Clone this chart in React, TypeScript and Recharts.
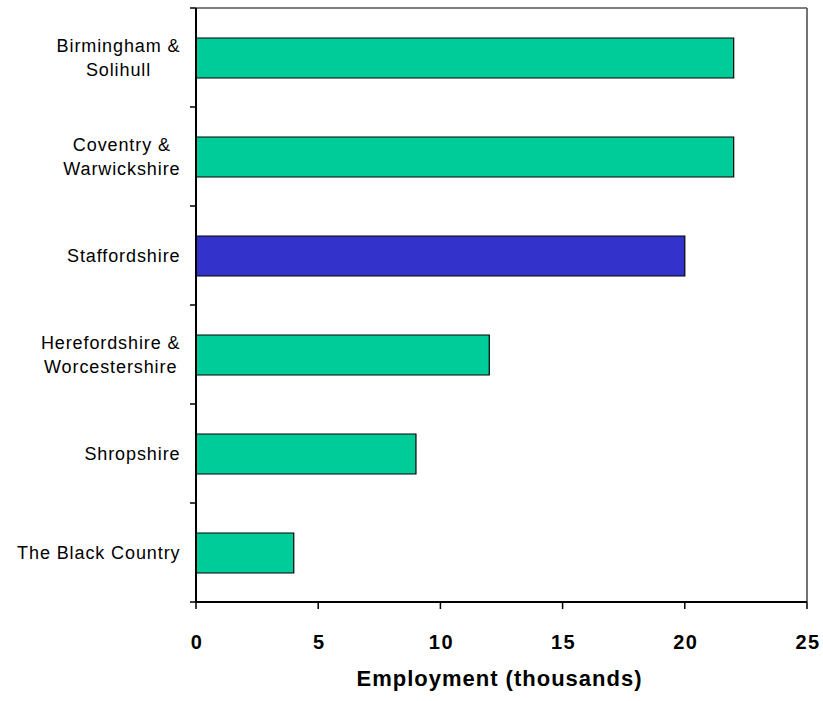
import React from "react";
import { BarChart, Bar, XAxis, YAxis, Cell, Label, ReferenceLine } from "recharts";

const regions = [
  "Birmingham &\nSolihull",
  "Coventry &\nWarwickshire",
  "Staffordshire",
  "Herefordshire &\nWorcestershire",
  "Shropshire",
  "The Black Country",
];
const employment = [22, 22, 20, 12, 9, 4];
const highlighted = "Staffordshire";
const xTicks = [0, 5, 10, 15, 20, 25];

const data = regions.map((name, i) => ({ name, value: employment[i] }));

const WIDTH = 823;
const HEIGHT = 701;
const PLOT_TOP = 8;
const PLOT_BOTTOM = 602;
const PLOT_LEFT = 196;
const PLOT_RIGHT = 807;
const BAND = (PLOT_BOTTOM - PLOT_TOP) / regions.length;

const FONT = "'Liberation Sans', Arial, sans-serif";
const CAT_SIZE = 18;
const CAT_SPACING = 0.9;
const LABEL_RIGHT = 180;

let ctx: CanvasRenderingContext2D | null = null;
function textWidth(s: string) {
  if (!ctx) ctx = document.createElement("canvas").getContext("2d");
  if (!ctx) return s.length * CAT_SIZE * 0.5;
  ctx.font = `${CAT_SIZE}px ${FONT}`;
  return ctx.measureText(s).width + (s.length - 1) * CAT_SPACING;
}

function CategoryTick(props: any) {
  const { y, payload, index } = props;
  const lines = String(payload.value).split("\n");
  const widths = lines.map(textWidth);
  const maxW = Math.max(...widths);
  const cx = LABEL_RIGHT - maxW / 2;
  const lineH = 23.4;
  const cap = 12.6;
  const first = y - ((lines.length - 1) * lineH) / 2 + cap / 2;
  const last = index === regions.length - 1;
  return (
    <g>
      <line x1={190} x2={PLOT_LEFT} y1={y - BAND / 2} y2={y - BAND / 2} stroke="#000" strokeWidth={1.5} />
      {last && (
        <line x1={190} x2={PLOT_LEFT} y1={y + BAND / 2} y2={y + BAND / 2} stroke="#000" strokeWidth={1.5} />
      )}
      {lines.map((t, i) => (
        <text
          key={i}
          x={cx}
          y={first + i * lineH}
          textAnchor="middle"
          fontFamily={FONT}
          fontSize={CAT_SIZE}
          letterSpacing={CAT_SPACING}
          fill="#000"
        >
          {t}
        </text>
      ))}
    </g>
  );
}

function ValueTick(props: any) {
  const { x, payload } = props;
  return (
    <text
      x={x + 1}
      y={649}
      textAnchor="middle"
      fontFamily={FONT}
      fontSize={20}
      fontWeight="bold"
      letterSpacing={1.5}
      fill="#000"
    >
      {payload.value}
    </text>
  );
}

function AxisTitle(props: any) {
  const vb = props.viewBox || {};
  const x = vb.width ? vb.x + vb.width / 2 : (PLOT_LEFT + PLOT_RIGHT) / 2;
  return (
    <text
      x={x - 2}
      y={686}
      textAnchor="middle"
      fontFamily={FONT}
      fontSize={22}
      fontWeight="bold"
      letterSpacing={1}
      fill="#000"
    >
      Employment (thousands)
    </text>
  );
}

export default function App() {
  return (
    <div style={{ position: "absolute", left: 0, top: 0, background: "#fff" }}>
      <BarChart
        width={WIDTH}
        height={HEIGHT}
        data={data}
        layout="vertical"
        margin={{ top: PLOT_TOP - 1, right: WIDTH - PLOT_RIGHT, bottom: 0, left: 0 }}
      >
        <XAxis
          type="number"
          domain={[0, 25]}
          ticks={xTicks}
          height={HEIGHT - PLOT_BOTTOM}
          axisLine={{ stroke: "#000", strokeWidth: 2 }}
          tickLine={{ stroke: "#000", strokeWidth: 1.5 }}
          tickSize={7}
          tick={<ValueTick />}
          interval={0}
        >
          <Label content={<AxisTitle />} />
        </XAxis>
        <XAxis
          xAxisId="top"
          orientation="top"
          type="number"
          domain={[0, 25]}
          height={1}
          tick={false}
          tickLine={false}
          axisLine={{ stroke: "#555", strokeWidth: 1.5 }}
        />
        <YAxis
          type="category"
          dataKey="name"
          width={PLOT_LEFT}
          axisLine={{ stroke: "#000", strokeWidth: 2 }}
          tickLine={false}
          tick={<CategoryTick />}
          interval={0}
        />
        <ReferenceLine x={25} stroke="#444" strokeWidth={1.5} ifOverflow="visible" />
        <Bar dataKey="value" barSize={40} stroke="#000" strokeWidth={1.2} isAnimationActive={false}>
          {data.map((d) => (
            <Cell key={d.name} fill={d.name === highlighted ? "#3333CC" : "#00CC99"} />
          ))}
        </Bar>
      </BarChart>
    </div>
  );
}
